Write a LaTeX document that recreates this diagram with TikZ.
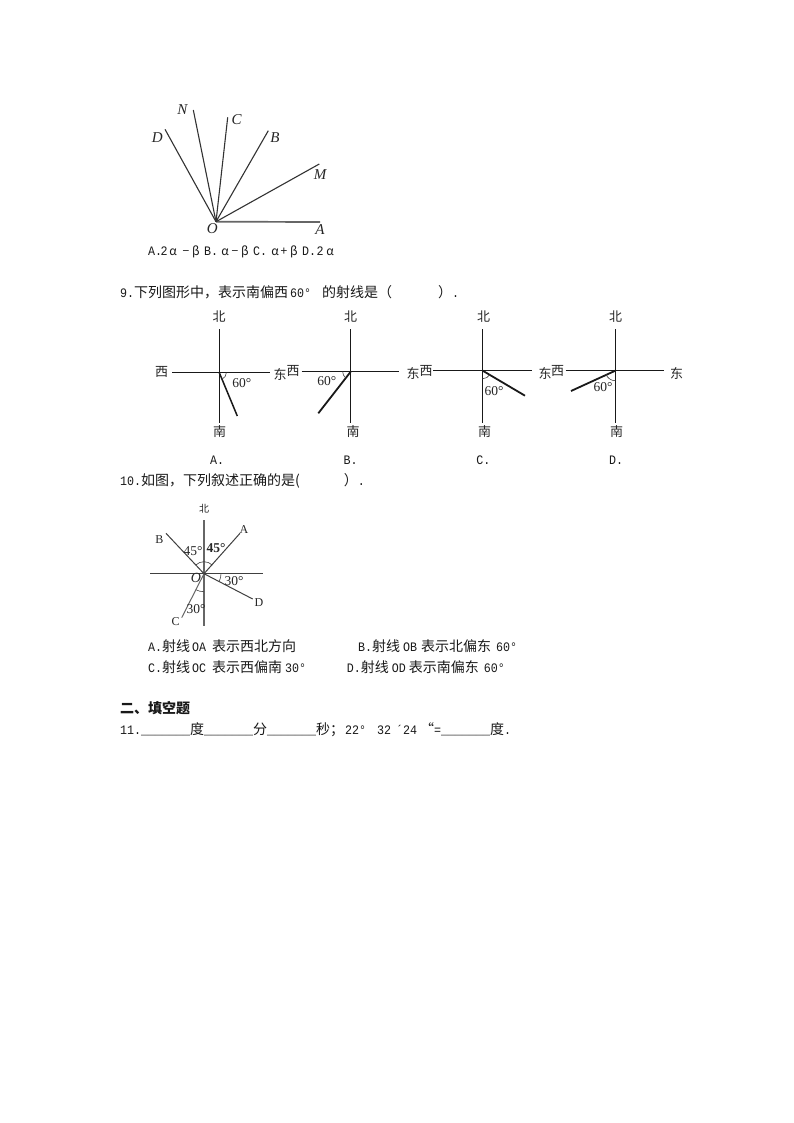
\documentclass[tikz,border=0pt]{standalone}
\usepackage{fontspec}
\setmainfont{Noto Sans CJK SC}
\newfontfamily\latf[FakeStretch=0.9]{Liberation Mono}
\newfontfamily\serf{Liberation Serif}
\newcommand\la[1]{{\latf\fontsize{12.96}{14}\selectfont #1}}
\newcommand\gp[1]{\hspace*{#1pt}}
\tikzset{
  txt/.style={anchor=base west,inner sep=0pt,font=\fontsize{14}{14}\selectfont,text=black!90},
  lab/.style={anchor=center,inner sep=0pt,font=\fontsize{13}{13}\selectfont,text=black!85},
  ser/.style={anchor=center,inner sep=0pt,font=\serf\fontsize{13.5}{14}\selectfont,text=black!85},
  small/.style={anchor=center,inner sep=0pt,font=\serf\fontsize{12}{12}\selectfont,text=black!85},
  pt/.style={anchor=center,inner sep=0pt,font=\serf\itshape\fontsize{15}{15}\selectfont,text=black!85},
  axis/.style={line width=1.5pt,black!90},
  rayb/.style={line width=1.8pt,black!90},
  thin1/.style={line width=1.1pt,black!80},
  thin2/.style={line width=1pt,black!75},
  arcm/.style={line width=0.6pt,black!75}
}
\newcommand\angarc[4]{\draw[arcm] ([shift={(#2:#4pt)}]#1) arc[start angle=#2,end angle=#3,radius=#4pt];}
\begin{document}
\begin{tikzpicture}[x=1pt,y=-1pt]
\useasboundingbox[fill=white] (0,0) rectangle (794,1123);
% Figure 1
\coordinate (O1) at (216,221.7);
\coordinate (A1) at (320,222);
\coordinate (M1) at (319.3,164);
\coordinate (B1) at (268.3,130.7);
\coordinate (C1) at (227.7,117.3);
\coordinate (N1) at (193.3,110);
\coordinate (D1) at (165,129.3);
\draw[line width=1.7pt,black!60] (O1) -- (A1);
\foreach \e in {M1,B1,C1,N1,D1} \draw[thin1] (O1) -- (\e);
\node[pt] (lN) at (182.3,109.3) {N};
\node[pt] (lC) at (236.7,120) {C};
\node[pt] (lD) at (157.3,137.3) {D};
\node[pt] (lB) at (275,137.3) {B};
\node[pt] (lM) at (320,174.3) {M};
\node[pt] (lO) at (212.3,228.3) {O};
\node[pt] (lA) at (320,230) {A};
\foreach \i/\x/\t in {1/155/\la{A.},2/164/\la{2},3/173/α,4/186/−,5/196/β,6/211/\la{B.},7/225/α,8/235/−,9/245/β,10/260/\la{C.},11/275/α,12/284/+,13/294/β,14/309/\la{D.},15/320/\la{2},16/330/α}
  \node[anchor=base,inner sep=0pt,font=\fontsize{12}{14}\selectfont,text=black!90] (opt\i) at (\x,255.5) {\t};
% Question 9
\node[txt] (q9) at (120,297) {\la{9.}下列图形中，表示南偏西\gp{2}\la{60°}\gp{11}的射线是（\gp{46}）\la{.}};
\foreach \n/\cx/\cy/\l/\r/\rx/\ry in {a/219.3/372.7/172.3/270/237.3/416,b/350.7/371.7/301.7/399.3/318.3/413.3,c/482.7/370.7/433.3/532.3/525/395.7,d/615.3/370.7/565.7/664/571/391}{
  \coordinate (c\n) at (\cx,\cy);
  \coordinate (t\n) at (\cx,329.3);
  \coordinate (u\n) at (\cx,423.3);
  \coordinate (w\n) at (\l,\cy);
  \coordinate (e\n) at (\r,\cy);
  \coordinate (r\n) at (\rx,\ry);
  \draw[axis] (t\n) -- (u\n);
  \draw[axis] (w\n) -- (e\n);
}
\draw[axis] (ca) -- (ra);
\draw[rayb] (cb) -- (rb);
\draw[rayb] (cc) -- (rc);
\draw[rayb] (cd) -- (rd);
\angarc{ca}{0}{-67}{7}
\angarc{cb}{180}{230}{8}
\angarc{cc}{270}{330}{8}
\angarc{cd}{270}{200}{10}
\foreach \n/\t/\x/\y in {
 an/北/219/317,as/南/219.7/432,aw/西/161.7/372,ae/东/280/374,
 bn/北/350.7/317,bs/南/353/432,bw/西/293/371,be/东/413/373,
 cn/北/483.7/317,cs/南/484.7/432,cw/西/426/371,ce/东/545/373,
 dn/北/615.7/317,ds/南/616.7/432,dw/西/557.7/371,de/东/676.7/373}
  \node[lab] (l\n) at (\x,\y) {\t};
\foreach \n/\x/\y in {a/241.7/382.7,b/326.7/381,c/494/391,d/603/387}
  \node[ser] (deg\n) at (\x,\y) {60°};
\foreach \n/\t/\x in {a/A./217,b/B./350.7,c/C./483.3,d/D./616}
  \node[anchor=center,inner sep=0pt,font=\latf\fontsize{12.96}{14}\selectfont,text=black!90] (cap\n) at (\x,460) {\t};
% Question 10
\node[txt] (q10) at (120,485) {\la{10.}如图，下列叙述正确的是(\gp{44}）\la{.}};
\coordinate (O2) at (204,573.7);
\coordinate (w2) at (150,573.7);
\coordinate (e2) at (263.3,573.7);
\coordinate (n2) at (204,520);
\coordinate (s2) at (204,625.7);
\coordinate (A2) at (240,533.3);
\coordinate (B2) at (166,533.3);
\coordinate (C2) at (181.7,617.7);
\coordinate (D2) at (252.7,599);
\draw[thin2] (w2) -- (e2);
\draw[line width=1.3pt,black!60] (n2) -- (s2);
\draw[thin2] (O2) -- (A2);
\draw[thin2] (O2) -- (B2);
\draw[thin2,black!60] (O2) -- (C2);
\draw[thin2] (O2) -- (D2);
\angarc{O2}{45}{135}{12}
\angarc{O2}{270}{243}{18}
\angarc{O2}{0}{-27}{17}
\node[lab,font=\fontsize{10}{10}\selectfont] (lbei) at (204,509) {北};
\node[small] (lA2) at (244,530) {A};
\node[small] (lB2) at (159.3,540) {B};
\node[small] (lC2) at (175.7,621.7) {C};
\node[small] (lD2) at (259,602.3) {D};
\node[ser,font=\serf\itshape\fontsize{14}{14}\selectfont] (lO2) at (196,578) {O};
\node[ser] (a45) at (193,550.7) {45°};
\node[ser,font=\serf\bfseries\fontsize{13.5}{14}\selectfont] (b45) at (216,548.3) {45°};
\node[ser] (a30) at (234,581) {30°};
\node[ser] (b30) at (196,609) {30°};
% Options
\node[txt] (oa) at (148,651) {\la{A.}射线\gp{2}\la{OA}\gp{6}表示西北方向};
\node[txt] (ob) at (358,651) {\la{B.}射线\gp{3}\la{OB}\gp{4}表示北偏东\gp{5}\la{60°}};
\node[txt] (oc) at (148,672) {\la{C.}射线\gp{2}\la{OC}\gp{6}表示西偏南\gp{3}\la{30°}};
\node[txt] (od) at (346.7,672) {\la{D.}射线\gp{3}\la{OD}\gp{3}表示南偏东\gp{5}\la{60°}};
\node[txt,font=\bfseries\fontsize{14}{14}\selectfont] (sec2) at (120,713) {二、填空题};
\node[txt] (q11) at (120,734) {\la{11.\_\_\_\_\_\_\_}度\la{\_\_\_\_\_\_\_}分\la{\_\_\_\_\_\_\_}秒；\gp{1}\la{22°}\gp{11}\la{32}\gp{5}\la{´24}\gp{3}“\la{=\_\_\_\_\_\_\_}度\la{.}};
\end{tikzpicture}
\end{document}
